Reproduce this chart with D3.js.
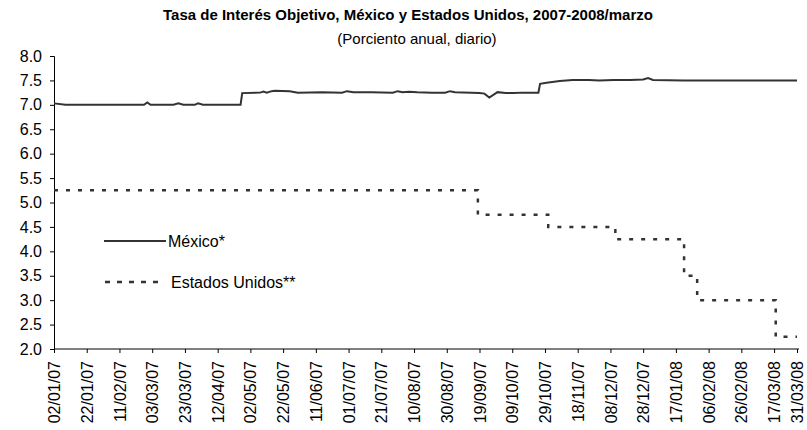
<!DOCTYPE html>
<html>
<head>
<meta charset="utf-8">
<script src="https://cdn.jsdelivr.net/npm/d3@7"></script>
<style>
  body { margin: 0; background: #fff; }
  svg text { font-family: "Liberation Sans", Arimo, Arial, sans-serif; fill: #000; }
</style>
</head>
<body>
<div id="chart"></div>
<script>
  var title = 'Tasa de Interés Objetivo, México y Estados Unidos, 2007-2008/marzo';
  var subtitle = '(Porciento anual, diario)';

  // tick labels on the date axis (every 20 days + last day)
  var xTickLabels = ['02/01/07', '22/01/07', '11/02/07', '03/03/07', '23/03/07', '12/04/07',
    '02/05/07', '22/05/07', '11/06/07', '01/07/07', '21/07/07', '10/08/07', '30/08/07',
    '19/09/07', '09/10/07', '29/10/07', '18/11/07', '08/12/07', '28/12/07', '17/01/08',
    '06/02/08', '26/02/08', '17/03/08', '31/03/08'];
  var yTicks = [2.0, 2.5, 3.0, 3.5, 4.0, 4.5, 5.0, 5.5, 6.0, 6.5, 7.0, 7.5, 8.0];

  // México
  var mexDates = ['02/01/07', '09/01/07', '26/02/07', '28/02/07', '02/03/07', '16/03/07', '19/03/07',
    '22/03/07', '29/03/07', '31/03/07', '03/04/07', '26/04/07', '27/04/07', '08/05/07', '10/05/07',
    '12/05/07', '15/05/07', '17/05/07', '26/05/07', '31/05/07', '15/06/07', '27/06/07', '30/06/07',
    '04/07/07', '15/07/07', '28/07/07', '31/07/07', '03/08/07', '07/08/07', '12/08/07', '21/08/07',
    '29/08/07', '01/09/07', '04/09/07', '19/09/07', '22/09/07', '25/09/07', '30/09/07', '05/10/07',
    '10/10/07', '15/10/07', '25/10/07', '26/10/07', '30/10/07', '07/11/07', '15/11/07', '25/11/07',
    '01/12/07', '10/12/07', '20/12/07', '28/12/07', '31/12/07', '03/01/08', '22/01/08', '31/03/08'];
  var mexValues = [7.03, 7.00, 7.00, 7.05, 7.00, 7.00, 7.03,
    7.00, 7.00, 7.03, 7.00, 7.00, 7.24, 7.25, 7.27,
    7.25, 7.28, 7.29, 7.28, 7.25, 7.26, 7.25, 7.28,
    7.26, 7.26, 7.25, 7.28, 7.26, 7.27, 7.26, 7.25,
    7.25, 7.28, 7.26, 7.24, 7.23, 7.15, 7.26, 7.24,
    7.24, 7.25, 7.25, 7.43, 7.45, 7.49, 7.51, 7.51,
    7.50, 7.51, 7.51, 7.52, 7.55, 7.51, 7.50, 7.50];

  // Estados Unidos: target changes
  var usDates = ['02/01/07', '18/09/07', '31/10/07', '11/12/07', '22/01/08', '30/01/08', '18/03/08', '31/03/08'];
  var usValues = [5.25, 4.75, 4.50, 4.25, 3.50, 3.00, 2.25, 2.25];

  var width = 807, height = 430;
  var parse = d3.timeParse('%d/%m/%y');

  var mex = mexDates.map(function(d, i) { return [parse(d), mexValues[i]]; });
  var us = usDates.map(function(d, i) { return [parse(d), usValues[i]]; });
  var tickDates = xTickLabels.map(parse);

  var svg = d3.select('#chart').append('svg').attr('width', width).attr('height', height);

  var x = d3.scaleTime().domain([parse('02/01/07'), parse('31/03/08')]).range([54, 797]);
  var y = d3.scaleLinear().domain([2, 8]).range([349, 56]);

  svg.append('text').attr('x', 408).attr('y', 20).attr('text-anchor', 'middle')
    .style('font-size', '15px').style('font-weight', 'bold').text(title);
  svg.append('text').attr('x', 417).attr('y', 44).attr('text-anchor', 'middle')
    .style('font-size', '15px').text(subtitle);

  // y axis
  var yAxis = svg.append('g').attr('transform', 'translate(54,0)')
    .call(d3.axisLeft(y).tickValues(yTicks).tickFormat(d3.format('.1f')).tickSize(4).tickPadding(8));
  yAxis.selectAll('text').style('font-size', '16px');

  // x axis
  var xAxis = svg.append('g').attr('transform', 'translate(0,349)')
    .call(d3.axisBottom(x).tickValues(tickDates).tickFormat(d3.timeFormat('%d/%m/%y')).tickSize(4));
  xAxis.select('.domain').attr('d', 'M54,0H799');
  xAxis.selectAll('text').style('font-size', '16px')
    .attr('transform', 'rotate(-90)').attr('text-anchor', 'end')
    .attr('x', -12).attr('y', 0).attr('dy', '0.35em');
  svg.selectAll('.domain, .tick line').attr('stroke', '#000');

  var line = d3.line().x(function(d) { return x(d[0]); }).y(function(d) { return y(d[1]); });

  svg.append('path').datum(mex).attr('d', line)
    .attr('fill', 'none').attr('stroke', '#333').attr('stroke-width', 2);

  svg.append('path').datum(us).attr('d', line.curve(d3.curveStepAfter))
    .attr('fill', 'none').attr('stroke', '#333').attr('stroke-width', 2.5)
    .attr('stroke-dasharray', '4,8');

  // legend
  var legend = svg.append('g');
  legend.append('line').attr('x1', 104).attr('x2', 166).attr('y1', 241).attr('y2', 241)
    .attr('stroke', '#333').attr('stroke-width', 2);
  legend.append('text').attr('x', 168).attr('y', 247).style('font-size', '16px').text('México*');
  legend.append('line').attr('x1', 105).attr('x2', 160).attr('y1', 282).attr('y2', 282)
    .attr('stroke', '#333').attr('stroke-width', 2.5).attr('stroke-dasharray', '5,7');
  legend.append('text').attr('x', 171).attr('y', 288).style('font-size', '16px').text('Estados Unidos**');
</script>
</body>
</html>
